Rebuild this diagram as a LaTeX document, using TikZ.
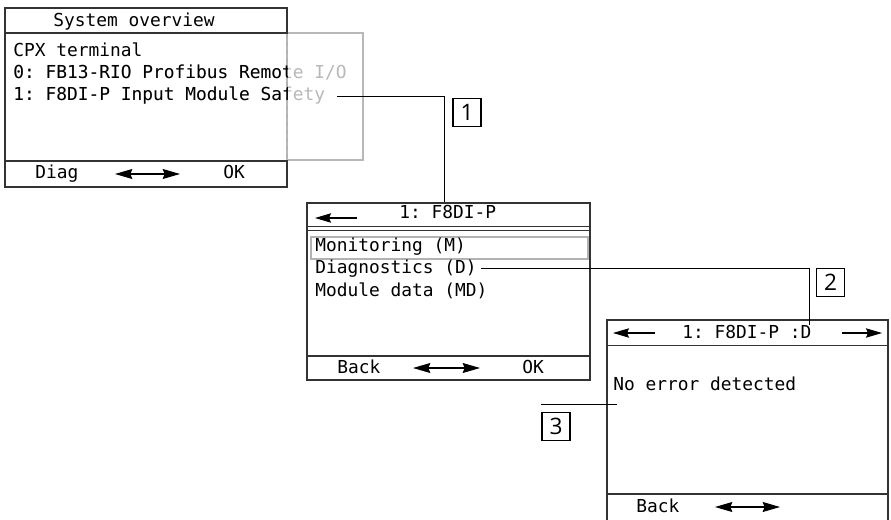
\documentclass[tikz,border=0pt]{standalone}
\usepackage{fontspec}
\setmonofont{DejaVu Sans Mono}
\setsansfont{Open Sans}
\usetikzlibrary{arrows.meta}

\tikzset{
  frame/.style={draw=black!80, line width=1.5pt},
  divider/.style={draw=black!80, line width=1pt},
  lcd/.style={font=\ttfamily\fontsize{13.4}{16}\selectfont, inner sep=0pt, anchor=base west},
  faded/.style={lcd, text=black!28},
  callout/.style={draw, line width=0.75pt},
  tag/.style={draw, line width=1pt, font=\sffamily\fontsize{17}{20}\selectfont, minimum width=21pt, minimum height=21pt, inner sep=0pt},
  dblarrow/.style={{Stealth[length=13pt,width=7.5pt,inset=1.5pt]}-{Stealth[length=13pt,width=7.5pt,inset=1.5pt]}, line width=0.8pt},
  onearrow/.style={-{Stealth[length=12pt,width=7pt,inset=1.5pt]}, line width=0.8pt},
}

\begin{document}
\begin{tikzpicture}[x=0.75pt, y=-0.75pt]
\useasboundingbox (0,0) rectangle (891,520);
% screen 1: system overview
\draw[black!28, line width=1.1pt] (287,33) rectangle (363,160);
\draw[frame] (287,33) -- (5,33) -- (5,187) -- (287,187) -- (287,161) -- (5,161);
\draw[frame] (5,8) rectangle (287,33);
\draw[black!30, line width=1.1pt, dashed] (287,34) -- (287,160);
\node[lcd] (ovtitle) at (53,27) {System overview};
\node[lcd] (cpx) at (13,57) {CPX terminal};
\node[faded] (mod0) at (13,79) {0: FB13-RIO Profibus Remote I/O};
\node[faded] (mod1) at (13,101) {1: F8DI-P Input Module Safety};
\begin{scope}
  \clip (0,0) rectangle (287,187);
  \node[lcd] (mod0b) at (mod0.base west) {0: FB13-RIO Profibus Remote I/O};
  \node[lcd] (mod1b) at (mod1.base west) {1: F8DI-P Input Module Safety};
\end{scope}
\node[lcd] (diag) at (35,179) {Diag};
\draw[dblarrow] (115,174) -- (180,174);
\node[lcd] (ok1) at (223,179) {OK};

% screen 2: module menu
\draw[frame] (307,203) rectangle (590,380);
\draw[divider] (307,226.5) -- (590,226.5);
\draw[divider] (307,230.5) -- (590,230.5);
\draw[divider] (307,356) -- (590,356);
\draw[black!30, line width=0.9pt] (311,237) rectangle (588,259);
\draw[onearrow] (357,218) -- (315,218);
\node[lcd] (modtitle) at (399,219) {1: F8DI-P};
\node[lcd] (mon) at (315,251) {Monitoring (M)};
\node[lcd] (diagn) at (315,273) {Diagnostics (D)};
\node[lcd] (mdata) at (315,296) {Module data (MD)};
\node[lcd] (back2) at (337,373) {Back};
\draw[dblarrow] (413,368) -- (480,368);
\node[lcd] (ok2) at (522,373) {OK};

% screen 3: diagnostics
\draw[frame] (607,520) -- (607,320) -- (888,320) -- (888,520);
\draw[divider] (607,345.5) -- (888,345.5);
\draw[divider] (607,494) -- (888,494);
\draw[onearrow] (655,333) -- (613,333);
\draw[onearrow] (842,333) -- (882,333);
\node[lcd] (diagtitle) at (682,338) {1: F8DI-P :D};
\node[lcd] (noerr) at (613,390) {No error detected};
\node[lcd] (back3) at (636,512) {Back};
\draw[dblarrow] (715,507) -- (780,507);

% callouts
\coordinate (s2top) at (444,202);
\coordinate (s3top) at (809,325);
\coordinate (c3) at (617,404);
\node[tag] (tag1) at (467,112.5) {1};
\node[tag] (tag2) at (830.5,282.5) {2};
\node[tag] (tag3) at (556,426.5) {3};
\draw[callout] ([xshift=9pt]mod1b.east) -| (s2top);
\draw[callout] ([xshift=3pt]diagn.east) -| (s3top);
\draw[callout] (c3) -- (c3 -| tag3.west);
\end{tikzpicture}
\end{document}
